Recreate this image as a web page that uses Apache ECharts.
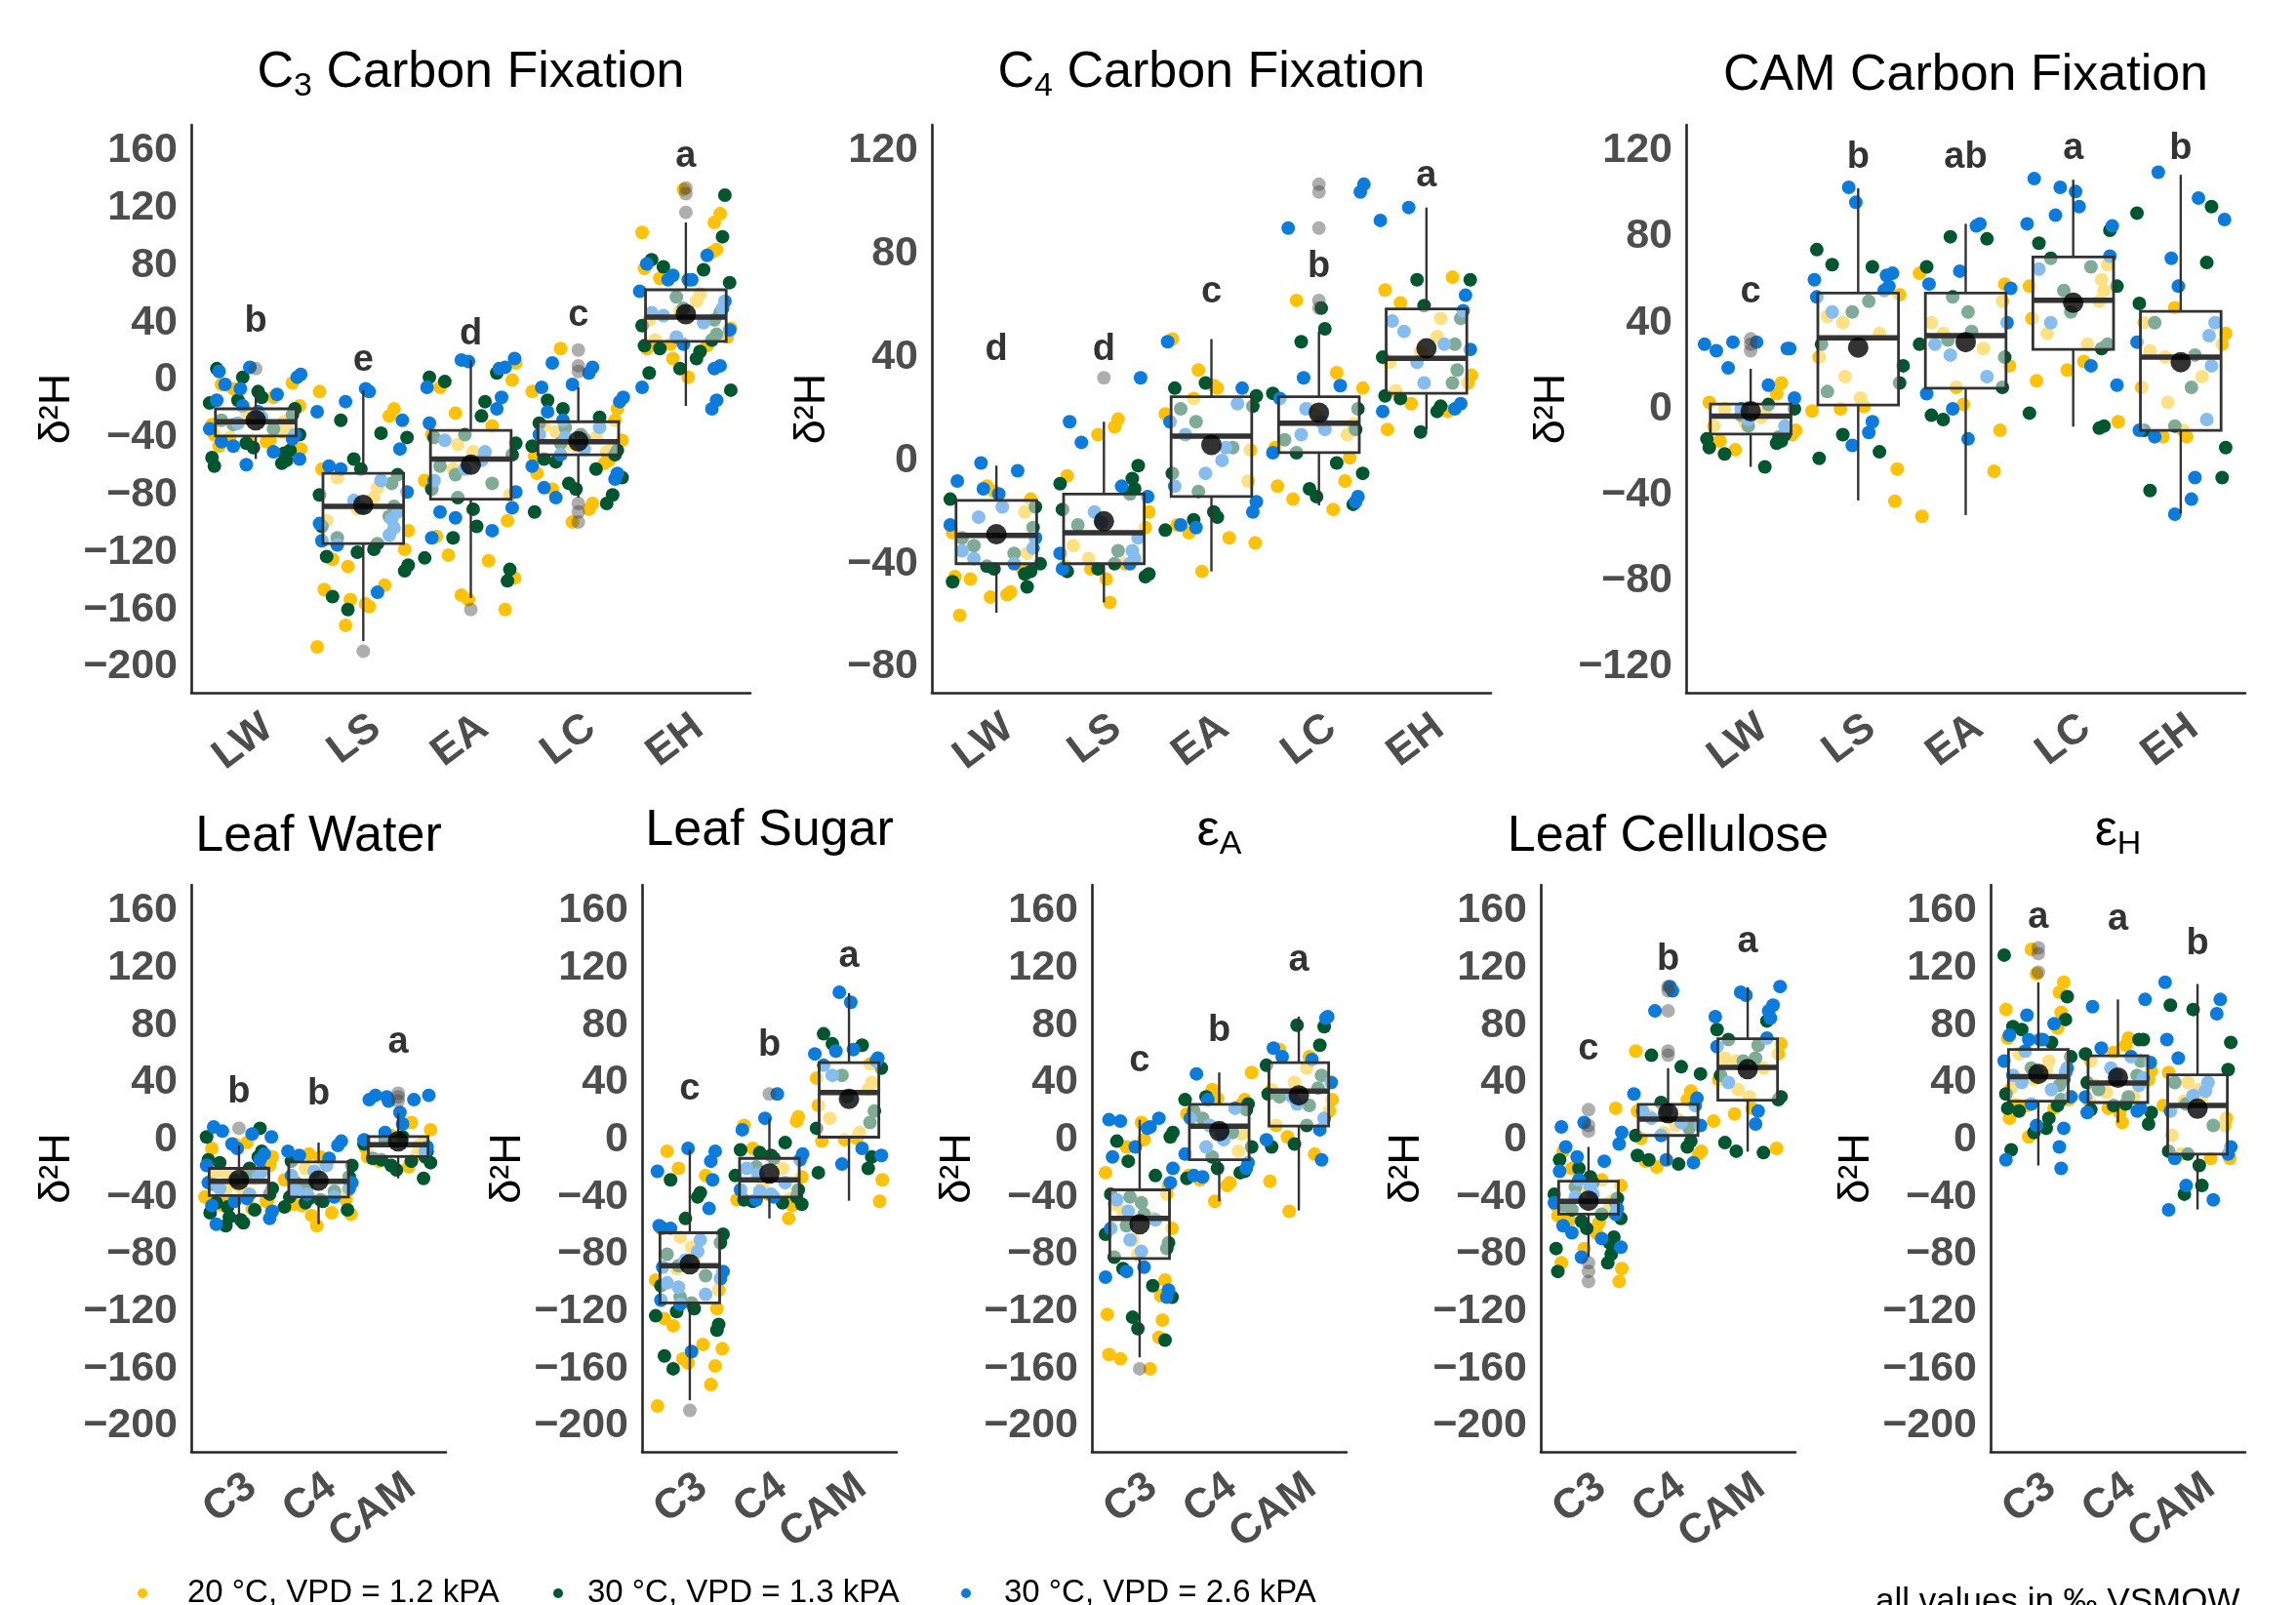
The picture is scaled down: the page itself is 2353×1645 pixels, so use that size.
<!DOCTYPE html>
<html>
<head>
<meta charset="utf-8">
<script src="https://cdn.jsdelivr.net/npm/echarts@6/dist/echarts.min.js"></script>
<style>
  html, body { margin: 0; padding: 0; background: #ffffff; }
  #chart { width: 2353px; height: 1645px; }
</style>
</head>
<body>
<div id="chart"></div>
<script>
// ---------------------------------------------------------------------------
// Categories
// ---------------------------------------------------------------------------
const COMPOUNDS = ['LW', 'LS', 'EA', 'LC', 'EH'];
const PATHWAYS = ['C3', 'C4', 'CAM'];
const CONDITIONS = ['20 °C, VPD = 1.2 kPA', '30 °C, VPD = 1.3 kPA', '30 °C, VPD = 2.6 kPA'];

// ---------------------------------------------------------------------------
// δ2H values (‰ VSMOW); each array holds [20 °C/1.2 kPa, 30 °C/1.3 kPa, 30 °C/2.6 kPa]
// ---------------------------------------------------------------------------
const C3_LW = [
  [-2, -3, -6, -12, -18, -22, -25, -27, -29, -31, -33, -36, -38, -40, -42, -43, -44, -46, -48, -50],
  [8, 2, -8, -12, -14, -16, -20, -24, -28, -31, -34, -38, -44, -47, -49, -51, -54, -56, -58, -60],
  [9, 6, 4, 2, -3, -6, -10, -14, -18, -22, -26, -30, -34, -38, -41, -43, -46, -50, -55, -59]
];
const C3_LS = [
  [-8, -20, -25, -62, -68, -75, -82, -90, -98, -105, -118, -125, -130, -143, -146, -153, -156, -158, -171, -186],
  [-28, -37, -40, -55, -62, -66, -72, -80, -88, -95, -102, -110, -114, -118, -120, -123, -129, -133, -151, -160],
  [-6, -8, -15, -22, -28, -48, -60, -62, -70, -78, -84, -89, -92, -97, -100, -103, -108, -112, -115, -148]
];
const C3_EA = [
  [12, 0, -5, -23, -32, -38, -45, -50, -55, -62, -70, -80, -98, -109, -122, -126, -138, -150, -153, -160],
  [5, 2, -1, -15, -25, -38, -40, -44, -52, -60, -66, -72, -76, -82, -90, -102, -110, -124, -132, -140],
  [15, 14, 13, 9, 8, -5, -12, -20, -30, -42, -50, -56, -62, -70, -78, -89, -92, -96, -105, -110]
];
const C3_LC = [
  [22, -8, -20, -28, -32, -36, -40, -42, -44, -46, -48, -50, -53, -56, -58, -65, -76, -86, -90, -99],
  [-14, -20, -26, -30, -33, -38, -41, -44, -46, -49, -52, -55, -57, -62, -68, -72, -76, -80, -86, -92],
  [12, 9, 5, -3, -5, -12, -15, -22, -28, -33, -38, -40, -44, -48, -52, -60, -65, -69, -75, -82]
];
const C3_EH = [
  [133, 116, 110, 103, 91, 89, 78, 71, 60, 55, 48, 42, 36, 30, 28, 25, 24, 22, 15, 2],
  [129, 100, 84, 79, 77, 68, 58, 50, 47, 42, 38, 32, 28, 24, 22, 20, 15, 8, 5, -7],
  [87, 81, 73, 70, 70, 70, 62, 55, 50, 47, 45, 40, 35, 30, 25, 10, 8, -5, -14, -20]
];

const C4_LW = [
  [-10, -12, -15, -20, -28, -36, -42, -45, -46, -51, -52, -53, -60],
  [-15, -18, -26, -30, -33, -36, -40, -41, -42, -43, -44, -47, -49],
  [-1, -4, -8, -11, -13, -18, -22, -25, -30, -34, -35, -38, -40]
];
const C4_LS = [
  [16, 13, 10, -6, -20, -26, -33, -38, -40, -41, -42, -46, -55],
  [-2, -7, -9, -11, -13, -19, -25, -35, -40, -42, -43, -44, -45],
  [32, 15, 7, -10, -14, -20, -24, -30, -35, -36, -38, -40, -42]
];
const C4_EA = [
  [47, 35, 29, 28, 24, 18, 4, -8, -25, -28, -30, -32, -43],
  [30, 28, 25, 21, 20, 15, 5, -5, -12, -20, -22, -23, -27],
  [46, 28, 22, 15, 10, 5, 0, -5, -10, -16, -20, -25, -26]
];
const C4_LC = [
  [62, 34, 28, 20, 17, 14, 10, 5, 1, -8, -10, -15, -19],
  [59, 51, 46, 26, 20, 12, 8, 3, -1, -5, -11, -14, -17],
  [107, 104, 90, 32, 29, 24, 20, 15, 12, 10, 3, -14, -16]
];
const C4_EH = [
  [71, 66, 61, 55, 48, 42, 38, 33, 30, 27, 22, 19, 12],
  [70, 70, 60, 55, 45, 40, 35, 30, 25, 24, 21, 19, 11],
  [98, 93, 64, 58, 54, 50, 45, 43, 38, 30, 22, 20, 19]
];

const CAM_LW = [
  [12, 7, 3, 0, -2, -4, -6, -8, -10, -12, -15, -19],
  [2, 0, -3, -8, -12, -13, -14, -15, -16, -18, -21, -27],
  [31, 31, 30, 28, 28, 27, 19, 11, 5, 0, -5, -8]
];
const CAM_LS = [
  [53, 43, 40, 35, 24, 15, 5, 1, 0, -1, -28, -43],
  [74, 67, 66, 50, 45, 30, 20, 12, 8, -12, -20, -23],
  [103, 96, 63, 62, 60, 57, 55, 52, 45, -6, -11, -17]
];
const CAM_EA = [
  [63, 58, 50, 40, 35, 28, 20, 10, 2, -10, -29, -50],
  [80, 79, 66, 52, 45, 36, 32, 30, 24, 10, -3, -5],
  [86, 85, 64, 58, 56, 40, 30, 25, 15, 7, 0, -14]
];
const CAM_LC = [
  [67, 60, 57, 55, 50, 42, 35, 30, 22, 18, 13, -6],
  [83, 77, 70, 66, 57, 55, 45, 30, 28, -2, -8, -9],
  [107, 103, 101, 94, 90, 86, 85, 71, 65, 40, 20, 11]
];
const CAM_EH = [
  [47, 40, 35, 30, 27, 24, 15, 10, 3, -10, -13, -13],
  [91, 94, 68, 49, 40, 25, 10, -8, -10, -18, -32, -38],
  [110, 98, 88, 70, 57, 40, 34, 31, 20, -5, -10, -13, -32, -42, -49]
];

// box summaries per compound: [lower whisker, Q1, median, Q3, upper whisker]
const C3_BOX = [[-55, -39, -29, -20, -4], [-182, -114, -88, -65, -7], [-152, -83, -55, -35, 14], [-82, -52, -43, -29, -5], [-18, 27, 44, 63, 110]];
const C4_BOX = [[-59, -40, -29, -15.5, -2], [-55, -40, -28, -13, 15], [-43, -14, 9.4, 24.7, 47], [-17.4, 3, 14.4, 24.7, 50], [12, 26, 39.6, 58.7, 98]];
const CAM_BOX = [[-27, -11.7, -3.4, 2.2, 18.6], [-42.6, 1.8, 33, 53.8, 102.5], [-49.4, 9.6, 34, 53.8, 86], [-8.3, 27.6, 50.5, 70.6, 106.5], [-48.7, -10, 24, 45.3, 108.8]];

// group means
const C3_MEAN = [-28, -87, -59, -42.6, 46];
const C4_MEAN = [-28.6, -23.6, 6, 18.5, 43.4];
const CAM_MEAN = [-1.1, 28.5, 31, 49.3, 21.7];

// boxplot outliers
const C3_OUT = [[8], [-189], [-160], [21, 10, 6, -86, -92, -99], [134, 130, 117]];
const C4_OUT = [[], [32], [], [107, 104, 90, 62, 59], []];
const CAM_OUT = [[32.5, 30, 27], [], [], [], []];

// significance letters and their heights, by pathway (compounds on x)
const C3_LETTERS = ['b', 'e', 'd', 'c', 'a'];
const C3_LETTER_Y = [41, 14, 32, 45, 156];
const C4_LETTERS = ['d', 'd', 'c', 'b', 'a'];
const C4_LETTER_Y = [43, 43, 65, 75, 110];
const CAM_LETTERS = ['c', 'b', 'ab', 'a', 'b'];
const CAM_LETTER_Y = [54, 117, 117, 121, 121];

// significance letters by compound (pathways on x)
const LW_LETTERS = ['b', 'b', 'a'];
const LW_LETTER_Y = [33, 32, 68];
const LS_LETTERS = ['c', 'b', 'a'];
const LS_LETTER_Y = [35, 66, 128];
const EA_LETTERS = ['c', 'b', 'a'];
const EA_LETTER_Y = [55, 76, 125];
const LC_LETTERS = ['c', 'b', 'a'];
const LC_LETTER_Y = [63, 126, 138];
const EH_LETTERS = ['a', 'a', 'b'];
const EH_LETTER_Y = [155, 154, 137];

// y tick labels
const TICKS_WIDE = [-200, -160, -120, -80, -40, 0, 40, 80, 120, 160];
const TICKS_C4 = [-80, -40, 0, 40, 80, 120];
const TICKS_CAM = [-120, -80, -40, 0, 40, 80, 120];

// ---------------------------------------------------------------------------
// Styling
// ---------------------------------------------------------------------------
const FONT = 'Liberation Sans, Arial, Helvetica, sans-serif';
const COND_COLORS = ['#FFC20A', '#00572F', '#0C7BDC'];
const AXIS_GREY = '#4D4D4D';
const BOX_LINE = '#333333';
const BOX_HALF = 0.375;
// fixed horizontal spread for the jittered points (category units)
const JITTER = [0.31, -0.22, 0.05, -0.37, 0.18, -0.08, 0.38, -0.29, 0.12, -0.15,
                0.26, -0.33, -0.02, 0.35, -0.19, 0.09, -0.39, 0.22, -0.11, 0.29,
                -0.26, 0.15, -0.05, 0.33, -0.35, 0.02, 0.24, -0.13, 0.37, -0.31];

// ---------------------------------------------------------------------------
// Panel tables assembled from the arrays above
// ---------------------------------------------------------------------------
const BY_PATHWAY = {
  C3: { groups: [C3_LW, C3_LS, C3_EA, C3_LC, C3_EH], box: C3_BOX, mean: C3_MEAN, out: C3_OUT },
  C4: { groups: [C4_LW, C4_LS, C4_EA, C4_LC, C4_EH], box: C4_BOX, mean: C4_MEAN, out: C4_OUT },
  CAM: { groups: [CAM_LW, CAM_LS, CAM_EA, CAM_LC, CAM_EH], box: CAM_BOX, mean: CAM_MEAN, out: CAM_OUT }
};

const panels = [
  { path: 'C3', letters: C3_LETTERS, letterY: C3_LETTER_Y, range: [-218, 178], ticks: TICKS_WIDE,
    grid: { left: 196, top: 128, width: 573, height: 582 }, nameGap: 114,
    title: '{m|C}{s|3}{m| Carbon Fixation}', titleY: 75 },
  { path: 'C4', letters: C4_LETTERS, letterY: C4_LETTER_Y, range: [-90, 130], ticks: TICKS_C4,
    grid: { left: 955, top: 128, width: 573, height: 582 }, nameGap: 100,
    title: '{m|C}{s|4}{m| Carbon Fixation}', titleY: 75 },
  { path: 'CAM', letters: CAM_LETTERS, letterY: CAM_LETTER_Y, range: [-132, 132], ticks: TICKS_CAM,
    grid: { left: 1728, top: 128, width: 573, height: 582 }, nameGap: 114,
    title: '{m|CAM Carbon Fixation}', titleY: 78 }
].map(p => {
  const src = BY_PATHWAY[p.path];
  return Object.assign(p, { cats: COMPOUNDS, groups: src.groups, box: src.box, mean: src.mean, out: src.out });
});

const BOTTOM = [
  { title: '{m|Leaf Water}', titleY: 858, letters: LW_LETTERS, letterY: LW_LETTER_Y, left: 196 },
  { title: '{m|Leaf Sugar}', titleY: 852, letters: LS_LETTERS, letterY: LS_LETTER_Y, left: 658 },
  { title: '{m|ε}{s|A}', titleY: 852, letters: EA_LETTERS, letterY: EA_LETTER_Y, left: 1119 },
  { title: '{m|Leaf Cellulose}', titleY: 858, letters: LC_LETTERS, letterY: LC_LETTER_Y, left: 1579 },
  { title: '{m|ε}{s|H}', titleY: 852, letters: EH_LETTERS, letterY: EH_LETTER_Y, left: 2040 }
];
BOTTOM.forEach((b, j) => {
  const src = PATHWAYS.map(k => BY_PATHWAY[k]);
  panels.push({
    cats: PATHWAYS,
    groups: src.map(s => s.groups[j]),
    box: src.map(s => s.box[j]),
    mean: src.map(s => s.mean[j]),
    out: src.map(s => s.out[j]),
    letters: b.letters, letterY: b.letterY,
    range: [-218, 178], ticks: TICKS_WIDE,
    grid: { left: b.left, top: 907, width: 261, height: 581 }, nameGap: 114,
    title: b.title, titleY: b.titleY
  });
});

// ---------------------------------------------------------------------------
// Option
// ---------------------------------------------------------------------------
const grids = [], xAxes = [], yAxes = [], series = [], graphics = [];

function renderBox(params, api) {
  const x = api.value(0);
  const lo = api.value(1), q1 = api.value(2), md = api.value(3), q3 = api.value(4), hi = api.value(5);
  const tl = api.coord([x - BOX_HALF, q3]);
  const br = api.coord([x + BOX_HALF, q1]);
  const mid = api.coord([x, md]);
  const pHi = api.coord([x, hi]);
  const pLo = api.coord([x, lo]);
  return {
    type: 'group',
    children: [
      { type: 'line', shape: { x1: pHi[0], y1: pHi[1], x2: pHi[0], y2: tl[1] }, style: { stroke: BOX_LINE, lineWidth: 2.4 } },
      { type: 'line', shape: { x1: pLo[0], y1: pLo[1], x2: pLo[0], y2: br[1] }, style: { stroke: BOX_LINE, lineWidth: 2.4 } },
      { type: 'rect', shape: { x: tl[0], y: tl[1], width: br[0] - tl[0], height: br[1] - tl[1] },
        style: { fill: 'rgba(255,255,255,0.5)', stroke: BOX_LINE, lineWidth: 2.8 } },
      { type: 'line', shape: { x1: tl[0], y1: mid[1], x2: br[0], y2: mid[1] }, style: { stroke: BOX_LINE, lineWidth: 5.5 } }
    ]
  };
}

panels.forEach((p, pi) => {
  const n = p.cats.length;
  grids.push(Object.assign({ containLabel: false }, p.grid));
  xAxes.push({
    type: 'value', gridIndex: pi, min: 0.4, max: n + 0.6,
    axisLine: { show: true, onZero: false, lineStyle: { color: '#262626', width: 2.6 } },
    axisTick: { show: false },
    splitLine: { show: false },
    axisLabel: {
      customValues: p.cats.map((c, i) => i + 1),
      formatter: v => p.cats[Math.round(v) - 1] || '',
      rotate: 37, margin: 14, align: 'right', verticalAlign: 'top',
      fontSize: 43, fontWeight: 'bold', color: AXIS_GREY, fontFamily: FONT
    }
  });
  yAxes.push({
    type: 'value', gridIndex: pi, min: p.range[0], max: p.range[1],
    axisLine: { show: true, onZero: false, lineStyle: { color: '#262626', width: 2.6 } },
    axisTick: { show: false },
    splitLine: { show: false },
    axisLabel: {
      customValues: p.ticks,
      formatter: v => String(v).replace('-', '\u2212'),
      margin: 14, fontSize: 43, fontWeight: 'bold', color: AXIS_GREY, fontFamily: FONT
    },
    name: 'δ²H', nameLocation: 'middle', nameRotate: 90, nameGap: p.nameGap,
    nameTextStyle: { fontSize: 45, color: '#000', fontFamily: FONT }
  });

  // jittered observations, one series per growth condition
  CONDITIONS.forEach((cond, c) => {
    const pts = [];
    p.groups.forEach((g, i) => {
      g[c].forEach((v, k) => {
        const dx = JITTER[(k * 7 + c * 11 + i * 3 + pi * 5) % JITTER.length];
        pts.push([i + 1 + dx * 1.1, v]);
      });
    });
    series.push({
      type: 'scatter', name: cond, xAxisIndex: pi, yAxisIndex: pi, data: pts,
      symbolSize: 14, itemStyle: { color: COND_COLORS[c], opacity: 1 }, z: 2, silent: true
    });
  });

  // boxes with whiskers
  series.push({
    type: 'custom', xAxisIndex: pi, yAxisIndex: pi, renderItem: renderBox,
    data: p.box.map((b, i) => [i + 1].concat(b)),
    encode: { x: 0, y: [1, 2, 3, 4, 5] }, z: 3, silent: true, clip: false
  });

  // outliers
  const outs = [];
  p.out.forEach((arr, i) => arr.forEach(v => outs.push([i + 1, v])));
  series.push({
    type: 'scatter', xAxisIndex: pi, yAxisIndex: pi, data: outs,
    symbolSize: 14, itemStyle: { color: 'rgba(70,70,70,0.55)' }, z: 4, silent: true
  });

  // means
  series.push({
    type: 'scatter', xAxisIndex: pi, yAxisIndex: pi,
    data: p.mean.map((m, i) => [i + 1, m]),
    symbolSize: 21, itemStyle: { color: '#000' }, z: 5, silent: true
  });

  // letters
  series.push({
    type: 'scatter', xAxisIndex: pi, yAxisIndex: pi,
    data: p.letterY.map((y, i) => [i + 1, y, p.letters[i]]),
    symbolSize: 1, itemStyle: { color: 'rgba(0,0,0,0)' }, z: 6, silent: true,
    label: {
      show: true, position: 'inside', formatter: d => d.value[2],
      fontSize: 38, fontWeight: 'bold', color: '#000', fontFamily: FONT
    }
  });

  // panel title
  graphics.push({
    type: 'text', x: p.grid.left + p.grid.width / 2, y: p.titleY,
    style: {
      text: p.title, fill: '#000', font: '52px ' + FONT,
      align: 'center', verticalAlign: 'middle', textAlign: 'center', textVerticalAlign: 'middle',
      rich: {
        m: { fontSize: 52, lineHeight: 62, fontFamily: FONT, fill: '#000' },
        s: { fontSize: 34, lineHeight: 32, verticalAlign: 'bottom', fontFamily: FONT, fill: '#000' }
      }
    }
  });
});

// legend along the bottom edge
const LEGEND_X = [146, 572, 990];
const LEGEND_TEXT_X = [192, 602, 1029];
CONDITIONS.forEach((cond, c) => {
  graphics.push({ type: 'circle', shape: { cx: LEGEND_X[c], cy: 1633, r: 5 }, style: { fill: COND_COLORS[c] } });
  graphics.push({
    type: 'text', x: LEGEND_TEXT_X[c], y: 1633,
    style: { text: cond, fill: '#000', font: '33px ' + FONT, align: 'left', verticalAlign: 'middle', textAlign: 'left', textVerticalAlign: 'middle' }
  });
});
graphics.push({
  type: 'text', x: 1922, y: 1642,
  style: { text: 'all values in ‰ VSMOW', fill: '#000', font: '35px ' + FONT, align: 'left', verticalAlign: 'middle', textAlign: 'left', textVerticalAlign: 'middle' }
});

const chart = echarts.init(document.getElementById('chart'), null, { renderer: 'canvas', width: 2353, height: 1645 });
chart.setOption({
  animation: false,
  backgroundColor: '#ffffff',
  textStyle: { fontFamily: FONT },
  grid: grids,
  xAxis: xAxes,
  yAxis: yAxes,
  series: series,
  graphic: { elements: graphics }
});
</script>
</body>
</html>
